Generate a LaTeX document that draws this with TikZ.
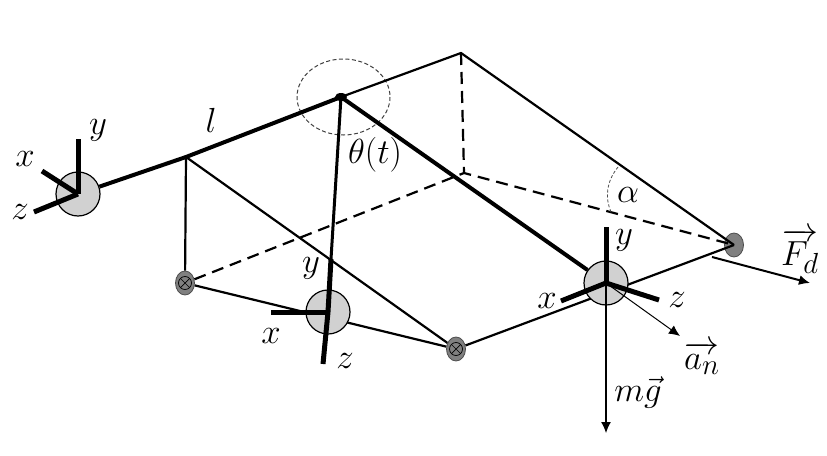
\documentclass[tikz,border=0pt]{standalone}
\usepackage{amsmath}
\usetikzlibrary{shapes.geometric,calc,arrows.meta}
\begin{document}
\begin{tikzpicture}[x=1pt,y=-1pt,
  hub/.style={circle,draw=black,fill=black!18,line width=1.2pt,minimum size=44pt,inner sep=0pt},
  pin/.style={ellipse,draw=black!70,fill=black!50,line width=.8pt,minimum width=19pt,minimum height=24pt,inner sep=0pt},
  lab/.style={inner sep=0pt,font=\Huge,scale=1.4},
  thick line/.style={line width=3pt},
  rod/.style={line width=4pt},
  axis/.style={line width=5pt,line cap=butt},
  plain/.style={line width=2.2pt},
  dash line/.style={line width=2.2pt,dash pattern=on 12pt off 7pt},
  tipped/.style={-{Latex[length=11pt,width=10pt]}}]
\useasboundingbox (0,0) rectangle (827,455);
% named points
\coordinate (apex) at (461,53);
\coordinate (centre) at (464,173);
\coordinate (lp) at (186,157);
\coordinate (yL) at (78,139); \coordinate (xL) at (42,171); \coordinate (zL) at (34,212);
\coordinate (yM) at (331,259); \coordinate (xM) at (271,312); \coordinate (zM) at (323,364);
\coordinate (yR) at (606,227); \coordinate (xR) at (561,301); \coordinate (zR) at (659,300);
\coordinate (anEnd) at (680,336); \coordinate (gEnd) at (606,433);
\coordinate (fdA) at (712,257); \coordinate (fdB) at (810,283);
\coordinate (arcA) at (611,212); \coordinate (arcB) at (618,167);
\node[pin] (pinA) at (185,283) {};
\node[pin] (pinB) at (456,349) {};
\node[pin] (pinC) at (734,245) {};
% base lines pass behind the hubs
\draw[plain] (pinA) -- (pinB);
\draw[plain] (pinB) -- (pinC.center);
\node[hub] (hubL) at (78,194) {};
\node[hub] (hubM) at (328,312) {};
\node[hub] (hubR) at (606,283) {};
\node[circle,draw=none,minimum size=0pt,inner sep=0pt] (piv) at (341,97) {};
% dashed circle
\draw[black!75,line width=1pt,dash pattern=on 4pt off 2.5pt] (343.5,97) ellipse [x radius=46.5,y radius=38];
% frame
\draw[rod] (hubL) -- (lp) -- (piv);
\draw[plain] (piv) -- (apex) -- (pinC.center);
\draw[plain] (lp) -- (pinA);
\draw[plain] (lp) -- (pinB);
\draw[dash line] (apex) -- (centre);
\draw[dash line] (pinA) -- (centre) -- (pinC.center);
\draw[thick line] (piv) -- (yM);
\draw[rod] (piv) -- (hubR);
\draw[line width=1pt] (hubR) -- (hubR.center);
\fill (piv) ellipse [x radius=6,y radius=4];
\draw[black!70,line width=.8pt,densely dashed] (arcA) .. controls (605,198) and (606,182) .. (arcB);
% pin marks
\foreach \p in {pinA,pinB}{
  \draw[line width=.7pt] (\p) circle (6.5);
  \draw[line width=.7pt] ($(\p)+(-4.6,-4.6)$) -- ($(\p)+(4.6,4.6)$) ($(\p)+(-4.6,4.6)$) -- ($(\p)+(4.6,-4.6)$);
}
% axes
\draw[axis] (hubL.center) -- (yL);
\draw[axis] (hubL.center) -- (xL);
\draw[axis] (hubL.center) -- (zL);
\draw[axis] (hubM.center) -- (yM);
\draw[axis] (hubM.center) -- (xM);
\draw[axis] (hubM.center) -- (zM);
\draw[axis] (hubR.center) -- (yR);
\draw[axis] (hubR.center) -- (xR);
\draw[axis] (hubR.center) -- (zR);
% forces
\draw[line width=1pt,tipped] (hubR.center) -- (anEnd);
\draw[line width=1.2pt,tipped] (hubR.center) -- (gEnd);
\draw[line width=2pt,tipped] (fdA) -- (fdB);
% labels
\node[lab] (t1) at (98,130) {$y$};
\node[lab] (t2) at (25,159) {$x$};
\node[lab] (t3) at (20,212) {$z$};
\node[lab] (t4) at (211,120) {$l$};
\node[lab] (t5) at (375,155) {$\theta(t)$};
\node[lab] (t6) at (311,268) {$y$};
\node[lab] (t7) at (271,336) {$x$};
\node[lab] (t8) at (345,361) {$z$};
\node[lab] (t9) at (624,240) {$y$};
\node[lab] (t10) at (547,301) {$x$};
\node[lab] (t11) at (677,300) {$z$};
\node[lab] (t12) at (628,195) {$\alpha$};
\node[lab] (t13) at (800,251) {$\overrightarrow{F_d}$};
\node[lab] (t14) at (702,358) {$\overrightarrow{a_n}$};
\node[lab] (t15) at (638,392) {$m\vec{g}$};
\end{tikzpicture}
\end{document}
